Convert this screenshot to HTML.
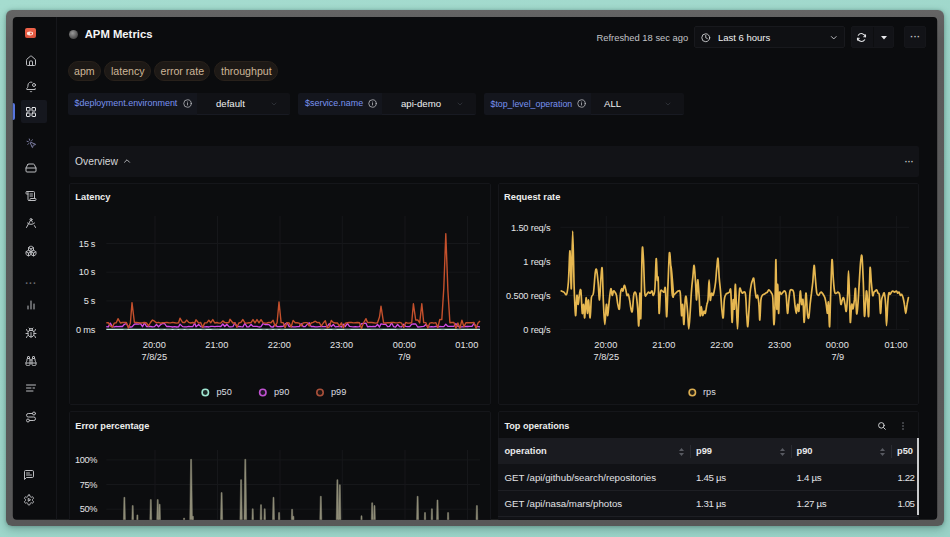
<!DOCTYPE html>
<html lang="en"><head><meta charset="utf-8"><title>APM Metrics</title>
<style>
html,body{margin:0;padding:0}
body{width:950px;height:537px;overflow:hidden;position:relative;font-family:"Liberation Sans", sans-serif;
 background:linear-gradient(160deg,#a5dccf 0%,#9fd7cb 50%,#99d2c7 100%)}
#frame{position:absolute;left:5.7px;top:10.3px;width:938.8px;height:516.2px;border-radius:6px;background:linear-gradient(#656565,#5b5b5b 6%,#585858);box-shadow:0 3px 9px rgba(20,55,48,.32),0 0 3px rgba(20,55,48,.25)}
#app{position:absolute;left:0;top:0;width:950px;height:537px;clip-path:inset(17px 12.8px 17.3px 12.8px round 4px);background:#0b0c0e}
.t{position:absolute;white-space:nowrap}
.r{position:absolute}
.ic{position:absolute;overflow:visible}
</style></head>
<body>
<div id="frame"></div>
<div id="app">
<div class="r" style="left:56.1px;top:17px;width:1.0px;height:503px;background:#16171b;"></div>
<div class="r" style="left:24.7px;top:28px;width:11px;height:10.3px;border-radius:2px;background:linear-gradient(#f0634a,#d9523c)"></div>
<svg class="ic" style="left:25.2px;top:28.6px" width="10" height="9" viewBox="0 0 10 9"><ellipse cx="5" cy="4.5" rx="3.1" ry="1.9" fill="#fde6df"/><circle cx="6" cy="4.5" r="1.1" fill="#e8573f"/></svg>
<svg class="ic" style="left:25.0px;top:55.0px" width="12" height="12" viewBox="0 0 24 24" fill="none" stroke="#bcbdc0" stroke-width="2" stroke-linecap="round" stroke-linejoin="round"><path d="M15 21v-8a1 1 0 0 0-1-1h-4a1 1 0 0 0-1 1v8"/><path d="M3 10a2 2 0 0 1 .709-1.528l7-5.999a2 2 0 0 1 2.582 0l7 5.999A2 2 0 0 1 21 10v9a2 2 0 0 1-2 2H5a2 2 0 0 1-2-2z"/></svg>
<svg class="ic" style="left:25.0px;top:80.5px" width="12" height="12" viewBox="0 0 24 24" fill="none" stroke="#bcbdc0" stroke-width="2" stroke-linecap="round" stroke-linejoin="round"><path d="M10.268 21a2 2 0 0 0 3.464 0"/><path d="M13.916 2.314A6 6 0 0 0 6 8c0 4.499-1.411 5.956-2.74 7.327A1 1 0 0 0 4 17h16a1 1 0 0 0 .74-1.673 9 9 0 0 1-.585-.665"/><circle cx="18" cy="8" r="3"/></svg>
<div class="r" style="left:20.5px;top:100px;width:26.5px;height:22.5px;background:#15171e;border-radius:2px"></div>
<div class="r" style="left:12px;top:102.5px;width:2.6999999999999993px;height:17.5px;background:#5674dc;border-radius:0 2px 2px 0"></div>
<svg class="ic" style="left:25.0px;top:105.5px" width="12" height="12" viewBox="0 0 24 24" fill="none" stroke="#e6e7ea" stroke-width="2" stroke-linecap="round" stroke-linejoin="round"><rect width="7" height="7" x="3" y="3" rx="1"/><rect width="7" height="7" x="14" y="3" rx="1"/><rect width="7" height="7" x="14" y="14" rx="1"/><rect width="7" height="7" x="3" y="14" rx="1"/></svg>
<svg class="ic" style="left:25.5px;top:137.5px" width="11" height="11" viewBox="0 0 24 24" fill="none" stroke="#8486ad" stroke-width="2" stroke-linecap="round" stroke-linejoin="round"><path d="M14 4.1 12 6"/><path d="m5.1 8-2.9-.8"/><path d="m6 12-1.9 2"/><path d="M7.2 2.2 8 5.1"/><path d="M9.037 9.69a.498.498 0 0 1 .653-.653l11 4.5a.5.5 0 0 1-.074.949l-4.349 1.041a1 1 0 0 0-.74.739l-1.04 4.35a.5.5 0 0 1-.95.074z"/></svg>
<svg class="ic" style="left:25.0px;top:162.0px" width="12" height="12" viewBox="0 0 24 24" fill="none" stroke="#bcbdc0" stroke-width="2" stroke-linecap="round" stroke-linejoin="round"><line x1="22" x2="2" y1="12" y2="12"/><path d="M5.45 5.11 2 12v6a2 2 0 0 0 2 2h16a2 2 0 0 0 2-2v-6l-3.45-6.89A2 2 0 0 0 16.76 4H7.24a2 2 0 0 0-1.79 1.11z"/></svg>
<svg class="ic" style="left:25.0px;top:190.0px" width="12" height="12" viewBox="0 0 24 24" fill="none" stroke="#bcbdc0" stroke-width="2" stroke-linecap="round" stroke-linejoin="round"><path d="M15 12h-5"/><path d="M15 8h-5"/><path d="M19 17V5a2 2 0 0 0-2-2H4"/><path d="M8 21h12a2 2 0 0 0 2-2v-1a1 1 0 0 0-1-1H11a1 1 0 0 0-1 1v1a2 2 0 1 1-4 0V5a2 2 0 1 0-4 0v2a1 1 0 0 0 1 1h3"/></svg>
<svg class="ic" style="left:25.0px;top:217.0px" width="12" height="12" viewBox="0 0 24 24" fill="none" stroke="#bcbdc0" stroke-width="2" stroke-linecap="round" stroke-linejoin="round"><path d="m12.99 6.74 1.93 3.44"/><path d="M19.136 12a10 10 0 0 1-14.271 0"/><path d="m21 21-2.16-3.84"/><path d="m3 21 8.02-14.26"/><circle cx="12" cy="5" r="2"/></svg>
<svg class="ic" style="left:25.0px;top:245.0px" width="12" height="12" viewBox="0 0 24 24" fill="none" stroke="#bcbdc0" stroke-width="2" stroke-linecap="round" stroke-linejoin="round"><path d="M2.97 12.92A2 2 0 0 0 2 14.63v3.24a2 2 0 0 0 .97 1.71l3 1.8a2 2 0 0 0 2.06 0L12 19v-5.5l-5-3-4.03 2.42Z"/><path d="m7 16.5-4.74-2.85"/><path d="m7 16.5 5-3"/><path d="M7 16.5v5.17"/><path d="M12 13.5V19l3.97 2.38a2 2 0 0 0 2.06 0l3-1.8a2 2 0 0 0 .97-1.71v-3.24a2 2 0 0 0-.97-1.71L17 10.5l-5 3Z"/><path d="m17 16.5-5-3"/><path d="m17 16.5 4.74-2.85"/><path d="M17 16.5v5.17"/><path d="M7.97 4.42A2 2 0 0 0 7 6.13v4.37l5 3 5-3V6.13a2 2 0 0 0-.97-1.71l-3-1.8a2 2 0 0 0-2.06 0l-3 1.8Z"/><path d="M12 8 7.26 5.15"/><path d="m12 8 4.74-2.85"/><path d="M12 13.5V8"/></svg>
<div class="t" style="left:-69.0px;width:200px;text-align:center;top:276.7px;font-size:10px;line-height:14px;color:#6a6c72;font-weight:bold;letter-spacing:0.5px;">···</div>
<svg class="ic" style="left:25.0px;top:299.0px" width="12" height="12" viewBox="0 0 24 24" fill="none" stroke="#bcbdc0" stroke-width="2" stroke-linecap="round" stroke-linejoin="round"><line x1="18" x2="18" y1="20" y2="10"/><line x1="12" x2="12" y1="20" y2="4"/><line x1="6" x2="6" y1="20" y2="14"/></svg>
<svg class="ic" style="left:25.0px;top:327.0px" width="12" height="12" viewBox="0 0 24 24" fill="none" stroke="#bcbdc0" stroke-width="2" stroke-linecap="round" stroke-linejoin="round"><path d="m8 2 1.88 1.88"/><path d="M14.12 3.88 16 2"/><path d="M9 7.13v-1a3.003 3.003 0 1 1 6 0v1"/><path d="M12 20c-3.3 0-6-2.7-6-6v-3a4 4 0 0 1 4-4h4a4 4 0 0 1 4 4v3c0 3.3-2.7 6-6 6"/><path d="M12 20v-9"/><path d="M6.53 9C4.6 8.8 3 7.1 3 5"/><path d="M6 13H2"/><path d="M3 21c0-2.1 1.7-3.9 3.8-4"/><path d="M20.97 5c0 2.1-1.6 3.8-3.5 4"/><path d="M22 13h-4"/><path d="M17.2 17c2.1.1 3.8 1.9 3.8 4"/></svg>
<svg class="ic" style="left:25.0px;top:355.0px" width="12" height="12" viewBox="0 0 24 24" fill="none" stroke="#bcbdc0" stroke-width="2" stroke-linecap="round" stroke-linejoin="round"><path d="M10 10h4"/><path d="M19 7V4a1 1 0 0 0-1-1h-2a1 1 0 0 0-1 1v3"/><path d="M20 21a2 2 0 0 0 2-2v-3.851c0-1.39-2-2.962-2-4.829V8a1 1 0 0 0-1-1h-4a1 1 0 0 0-1 1v11a2 2 0 0 0 2 2z"/><path d="M22 16H2"/><path d="M4 21a2 2 0 0 1-2-2v-3.851c0-1.39 2-2.962 2-4.829V8a1 1 0 0 1 1-1h4a1 1 0 0 1 1 1v11a2 2 0 0 1-2 2z"/><path d="M9 7V4a1 1 0 0 0-1-1H6a1 1 0 0 0-1 1v3"/></svg>
<svg class="ic" style="left:25.0px;top:382.0px" width="12" height="12" viewBox="0 0 24 24" fill="none" stroke="#bcbdc0" stroke-width="2" stroke-linecap="round" stroke-linejoin="round"><path d="M3 6h18"/><path d="M3 12h9"/><path d="M16 12h3"/><path d="M3 18h13"/></svg>
<svg class="ic" style="left:25.0px;top:411.0px" width="12" height="12" viewBox="0 0 24 24" fill="none" stroke="#bcbdc0" stroke-width="2" stroke-linecap="round" stroke-linejoin="round"><circle cx="6" cy="19" r="3"/><path d="M9 19h8.5a3.5 3.5 0 0 0 0-7h-11a3.5 3.5 0 0 1 0-7H15"/><circle cx="18" cy="5" r="3"/></svg>
<svg class="ic" style="left:23.0px;top:469.0px" width="12" height="12" viewBox="0 0 24 24" fill="none" stroke="#bcbdc0" stroke-width="2" stroke-linecap="round" stroke-linejoin="round"><path d="M21 15a2 2 0 0 1-2 2H7l-4 4V5a2 2 0 0 1 2-2h14a2 2 0 0 1 2 2z"/><path d="M13 8H7"/><path d="M17 12H7"/></svg>
<svg class="ic" style="left:23.0px;top:494.0px" width="12" height="12" viewBox="0 0 24 24" fill="none" stroke="#bcbdc0" stroke-width="2" stroke-linecap="round" stroke-linejoin="round"><path d="M12.22 2h-.44a2 2 0 0 0-2 2v.18a2 2 0 0 1-1 1.73l-.43.25a2 2 0 0 1-2 0l-.15-.08a2 2 0 0 0-2.73.73l-.22.38a2 2 0 0 0 .73 2.73l.15.1a2 2 0 0 1 1 1.72v.51a2 2 0 0 1-1 1.74l-.15.09a2 2 0 0 0-.73 2.73l.22.38a2 2 0 0 0 2.73.73l.15-.08a2 2 0 0 1 2 0l.43.25a2 2 0 0 1 1 1.73V20a2 2 0 0 0 2 2h.44a2 2 0 0 0 2-2v-.18a2 2 0 0 1 1-1.73l.43-.25a2 2 0 0 1 2 0l.15.08a2 2 0 0 0 2.73-.73l.22-.39a2 2 0 0 0-.73-2.73l-.15-.08a2 2 0 0 1-1-1.74v-.5a2 2 0 0 1 1-1.74l.15-.09a2 2 0 0 0 .73-2.73l-.22-.38a2 2 0 0 0-2.73-.73l-.15.08a2 2 0 0 1-2 0l-.43-.25a2 2 0 0 1-1-1.73V4a2 2 0 0 0-2-2z"/><path d="M10.5 9.5v5l4-2.5z" fill="currentColor"/></svg>
<div class="r" style="left:69px;top:29.5px;width:9px;height:9px;border-radius:50%;background:radial-gradient(circle at 40% 35%,#9a9a9a,#4a4a4a 70%,#333)"></div>
<div class="t" style="left:84.7px;top:25.9px;font-size:11.3px;line-height:16px;color:#f4f5f6;font-weight:bold;">APM Metrics</div>
<div class="t" style="left:596.5px;top:31.2px;font-size:9.4px;line-height:13px;color:#c3c4c7;font-weight:normal;">Refreshed 18 sec ago</div>
<div class="r" style="left:694px;top:26px;width:151px;height:22px;background:#0f1013;border:1px solid #18191d;box-sizing:border-box;border-radius:2px"></div>
<svg class="ic" style="left:700.5px;top:32.5px" width="9.5" height="9.5" viewBox="0 0 24 24" fill="none" stroke="#d4d5d8" stroke-width="2.2" stroke-linecap="round" stroke-linejoin="round"><circle cx="12" cy="12" r="10"/><polyline points="12 6 12 12 16 14"/></svg>
<div class="t" style="left:718.0px;top:31.2px;font-size:9.5px;line-height:13px;color:#f0f1f2;font-weight:normal;">Last 6 hours</div>
<svg class="ic" style="left:829.2px;top:32.5px" width="9.5" height="9.5" viewBox="0 0 24 24" fill="none" stroke="#c4c5c9" stroke-width="2.4" stroke-linecap="round" stroke-linejoin="round"><path d="m6 9 6 6 6-6"/></svg>
<div class="r" style="left:851px;top:26px;width:43px;height:22px;background:#121317;border:1px solid #15161a;box-sizing:border-box;border-radius:2px"></div>
<div class="r" style="left:873px;top:27px;width:1px;height:20px;background:#0d0e10;"></div>
<svg class="ic" style="left:856.2px;top:31.7px" width="11" height="11" viewBox="0 0 24 24" fill="none" stroke="#e4e5e8" stroke-width="2.3" stroke-linecap="round" stroke-linejoin="round"><path d="M20.5 10.5A8.6 8.6 0 0 0 5 7.2"/><path d="M3.5 13.500A8.6 8.600 0 0 0 19 16.800"/><path d="M20.8 6.300v4h-4"/><path d="M3.200 17.700v-4h4"/></svg>
<svg class="ic" style="left:881px;top:35.5px" width="6" height="3.5" viewBox="0 0 6 3.5"><path d="M0 0h6L3 3.5z" fill="#e6e7ea"/></svg>
<div class="r" style="left:904px;top:26px;width:22px;height:22px;background:#121317;border:1px solid #15161a;box-sizing:border-box;border-radius:2px"></div>
<div class="t" style="left:815.3px;width:200px;text-align:center;top:31.4px;font-size:9px;line-height:13px;color:#c8c9cc;font-weight:bold;letter-spacing:0.3px;">···</div>
<div class="r" style="left:67.5px;top:61px;width:33.0px;height:19.5px;background:#1d1916;border-radius:10px;border:1px solid #28211b;box-sizing:border-box"></div>
<div class="t" style="left:-15.7px;width:200px;text-align:center;top:64.0px;font-size:10.6px;line-height:15px;color:#cdb698;font-weight:normal;">apm</div>
<div class="r" style="left:104px;top:61px;width:47px;height:19.5px;background:#1d1916;border-radius:10px;border:1px solid #28211b;box-sizing:border-box"></div>
<div class="t" style="left:27.8px;width:200px;text-align:center;top:64.0px;font-size:10.6px;line-height:15px;color:#cdb698;font-weight:normal;">latency</div>
<div class="r" style="left:154px;top:61px;width:56px;height:19.5px;background:#1d1916;border-radius:10px;border:1px solid #28211b;box-sizing:border-box"></div>
<div class="t" style="left:82.3px;width:200px;text-align:center;top:64.0px;font-size:10.6px;line-height:15px;color:#cdb698;font-weight:normal;">error rate</div>
<div class="r" style="left:214px;top:61px;width:64px;height:19.5px;background:#1d1916;border-radius:10px;border:1px solid #28211b;box-sizing:border-box"></div>
<div class="t" style="left:146.3px;width:200px;text-align:center;top:64.0px;font-size:10.6px;line-height:15px;color:#cdb698;font-weight:normal;">throughput</div>
<div class="r" style="left:68px;top:92.5px;width:129px;height:22.0px;background:#14161d;border-radius:2px 0 0 2px"></div>
<div class="r" style="left:197px;top:92.5px;width:93px;height:22.0px;background:#111216;border-bottom:1px solid #181a22;box-sizing:border-box;border-radius:0 2px 2px 0"></div>
<div class="t" style="left:74.5px;top:97.1px;font-size:8.95px;line-height:13px;color:#7892f0;font-weight:normal;">$deployment.environment</div>
<svg class="ic" style="left:183.0px;top:99.0px" width="9" height="9" viewBox="0 0 24 24" fill="none" stroke="#c0c1c5" stroke-width="2" stroke-linecap="round" stroke-linejoin="round"><circle cx="12" cy="12" r="10"/><path d="M12 16v-5"/><path d="M12 8h.01"/></svg>
<div class="t" style="left:216.0px;top:96.9px;font-size:9.6px;line-height:13px;color:#f0f1f2;font-weight:normal;">default</div>
<svg class="ic" style="left:270.0px;top:99.5px" width="8" height="8" viewBox="0 0 24 24" fill="none" stroke="#3a3c44" stroke-width="2" stroke-linecap="round" stroke-linejoin="round"><path d="m6 9 6 6 6-6"/></svg>
<div class="r" style="left:298px;top:92.5px;width:84px;height:22.0px;background:#14161d;border-radius:2px 0 0 2px"></div>
<div class="r" style="left:382px;top:92.5px;width:94px;height:22.0px;background:#111216;border-bottom:1px solid #181a22;box-sizing:border-box;border-radius:0 2px 2px 0"></div>
<div class="t" style="left:305.0px;top:97.1px;font-size:8.95px;line-height:13px;color:#7892f0;font-weight:normal;">$service.name</div>
<svg class="ic" style="left:368.0px;top:99.0px" width="9" height="9" viewBox="0 0 24 24" fill="none" stroke="#c0c1c5" stroke-width="2" stroke-linecap="round" stroke-linejoin="round"><circle cx="12" cy="12" r="10"/><path d="M12 16v-5"/><path d="M12 8h.01"/></svg>
<div class="t" style="left:401.0px;top:96.9px;font-size:9.6px;line-height:13px;color:#f0f1f2;font-weight:normal;">api-demo</div>
<svg class="ic" style="left:455.5px;top:99.5px" width="8" height="8" viewBox="0 0 24 24" fill="none" stroke="#3a3c44" stroke-width="2" stroke-linecap="round" stroke-linejoin="round"><path d="m6 9 6 6 6-6"/></svg>
<div class="r" style="left:484px;top:92.5px;width:107px;height:22.0px;background:#14161d;border-radius:2px 0 0 2px"></div>
<div class="r" style="left:591px;top:92.5px;width:93px;height:22.0px;background:#111216;border-bottom:1px solid #181a22;box-sizing:border-box;border-radius:0 2px 2px 0"></div>
<div class="t" style="left:490.5px;top:97.6px;font-size:8.8px;line-height:12px;color:#7892f0;font-weight:normal;">$top_level_operation</div>
<svg class="ic" style="left:576.5px;top:99.0px" width="9" height="9" viewBox="0 0 24 24" fill="none" stroke="#c0c1c5" stroke-width="2" stroke-linecap="round" stroke-linejoin="round"><circle cx="12" cy="12" r="10"/><path d="M12 16v-5"/><path d="M12 8h.01"/></svg>
<div class="t" style="left:604.0px;top:96.9px;font-size:9.6px;line-height:13px;color:#f0f1f2;font-weight:normal;">ALL</div>
<svg class="ic" style="left:663.5px;top:99.5px" width="8" height="8" viewBox="0 0 24 24" fill="none" stroke="#3a3c44" stroke-width="2" stroke-linecap="round" stroke-linejoin="round"><path d="m6 9 6 6 6-6"/></svg>
<div class="r" style="left:69px;top:146px;width:850px;height:30.5px;background:#121317;border-radius:2px"></div>
<div class="t" style="left:75.0px;top:154.7px;font-size:10.3px;line-height:14px;color:#d5d6d9;font-weight:normal;">Overview</div>
<svg class="ic" style="left:122.0px;top:156.0px" width="10" height="10" viewBox="0 0 24 24" fill="none" stroke="#b8b9bd" stroke-width="2.3" stroke-linecap="round" stroke-linejoin="round"><path d="m18 15-6-6-6 6"/></svg>
<div class="t" style="left:809.2px;width:200px;text-align:center;top:156.3px;font-size:8.5px;line-height:12px;color:#c8c9cc;font-weight:bold;letter-spacing:0.2px;">···</div>
<div class="r" style="left:69px;top:182.5px;width:422px;height:222.5px;background:#0c0d0f;border:1px solid #15161a;box-sizing:border-box;border-radius:2px"></div>
<div class="r" style="left:498px;top:182.5px;width:421px;height:222.5px;background:#0c0d0f;border:1px solid #15161a;box-sizing:border-box;border-radius:2px"></div>
<div class="r" style="left:69px;top:411px;width:422px;height:149px;background:#0c0d0f;border:1px solid #15161a;box-sizing:border-box;border-radius:2px"></div>
<div class="r" style="left:498px;top:411px;width:421px;height:149px;background:#0c0d0f;border:1px solid #15161a;box-sizing:border-box;border-radius:2px"></div>
<div class="t" style="left:75.3px;top:191.0px;font-size:9.3px;line-height:13px;color:#eceded;font-weight:bold;">Latency</div>
<div class="t" style="left:504.0px;top:191.0px;font-size:9.3px;line-height:13px;color:#eceded;font-weight:bold;">Request rate</div>
<div class="t" style="left:75.3px;top:420.2px;font-size:9.2px;line-height:13px;color:#eceded;font-weight:bold;">Error percentage</div>
<div class="t" style="left:504.4px;top:420.2px;font-size:9.1px;line-height:13px;color:#eceded;font-weight:bold;">Top operations</div>
<div class="t" style="right:854.6px;top:237.7px;font-size:9.2px;line-height:13px;color:#e4e5e7;font-weight:normal;word-spacing:-0.6px;">15 s</div>
<div class="t" style="right:854.6px;top:266.4px;font-size:9.2px;line-height:13px;color:#e4e5e7;font-weight:normal;word-spacing:-0.6px;">10 s</div>
<div class="t" style="right:854.6px;top:295.1px;font-size:9.2px;line-height:13px;color:#e4e5e7;font-weight:normal;word-spacing:-0.6px;">5 s</div>
<div class="t" style="right:854.6px;top:323.8px;font-size:9.2px;line-height:13px;color:#e4e5e7;font-weight:normal;word-spacing:-0.6px;">0 ms</div>
<div class="t" style="left:54.3px;width:200px;text-align:center;top:338.9px;font-size:9.2px;line-height:13px;color:#e4e5e7;font-weight:normal;">20:00</div>
<div class="t" style="left:116.8px;width:200px;text-align:center;top:338.9px;font-size:9.2px;line-height:13px;color:#e4e5e7;font-weight:normal;">21:00</div>
<div class="t" style="left:179.3px;width:200px;text-align:center;top:338.9px;font-size:9.2px;line-height:13px;color:#e4e5e7;font-weight:normal;">22:00</div>
<div class="t" style="left:241.6px;width:200px;text-align:center;top:338.9px;font-size:9.2px;line-height:13px;color:#e4e5e7;font-weight:normal;">23:00</div>
<div class="t" style="left:304.3px;width:200px;text-align:center;top:338.9px;font-size:9.2px;line-height:13px;color:#e4e5e7;font-weight:normal;">00:00</div>
<div class="t" style="left:366.8px;width:200px;text-align:center;top:338.9px;font-size:9.2px;line-height:13px;color:#e4e5e7;font-weight:normal;">01:00</div>
<div class="t" style="left:54.3px;width:200px;text-align:center;top:351.2px;font-size:9.2px;line-height:13px;color:#e4e5e7;font-weight:normal;">7/8/25</div>
<div class="t" style="left:304.3px;width:200px;text-align:center;top:351.2px;font-size:9.2px;line-height:13px;color:#e4e5e7;font-weight:normal;">7/9</div>
<div class="t" style="left:216.5px;top:386.4px;font-size:9.2px;line-height:13px;color:#dcdde0;font-weight:normal;">p50</div>
<div class="t" style="left:274.0px;top:386.4px;font-size:9.2px;line-height:13px;color:#dcdde0;font-weight:normal;">p90</div>
<div class="t" style="left:331.0px;top:386.4px;font-size:9.2px;line-height:13px;color:#dcdde0;font-weight:normal;">p99</div>
<div class="t" style="right:399.6px;top:221.5px;font-size:9.2px;line-height:13px;color:#e4e5e7;font-weight:normal;letter-spacing:-0.15px;">1.50 req/s</div>
<div class="t" style="right:399.6px;top:255.6px;font-size:9.2px;line-height:13px;color:#e4e5e7;font-weight:normal;letter-spacing:-0.15px;">1 req/s</div>
<div class="t" style="right:399.6px;top:289.7px;font-size:9.2px;line-height:13px;color:#e4e5e7;font-weight:normal;letter-spacing:-0.15px;">0.500 req/s</div>
<div class="t" style="right:399.6px;top:323.8px;font-size:9.2px;line-height:13px;color:#e4e5e7;font-weight:normal;letter-spacing:-0.15px;">0 req/s</div>
<div class="t" style="left:505.8px;width:200px;text-align:center;top:338.9px;font-size:9.2px;line-height:13px;color:#e4e5e7;font-weight:normal;">20:00</div>
<div class="t" style="left:563.8px;width:200px;text-align:center;top:338.9px;font-size:9.2px;line-height:13px;color:#e4e5e7;font-weight:normal;">21:00</div>
<div class="t" style="left:621.7px;width:200px;text-align:center;top:338.9px;font-size:9.2px;line-height:13px;color:#e4e5e7;font-weight:normal;">22:00</div>
<div class="t" style="left:679.6px;width:200px;text-align:center;top:338.9px;font-size:9.2px;line-height:13px;color:#e4e5e7;font-weight:normal;">23:00</div>
<div class="t" style="left:737.3px;width:200px;text-align:center;top:338.9px;font-size:9.2px;line-height:13px;color:#e4e5e7;font-weight:normal;">00:00</div>
<div class="t" style="left:796.1px;width:200px;text-align:center;top:338.9px;font-size:9.2px;line-height:13px;color:#e4e5e7;font-weight:normal;">01:00</div>
<div class="t" style="left:506.3px;width:200px;text-align:center;top:351.2px;font-size:9.2px;line-height:13px;color:#e4e5e7;font-weight:normal;">7/8/25</div>
<div class="t" style="left:737.8px;width:200px;text-align:center;top:351.2px;font-size:9.2px;line-height:13px;color:#e4e5e7;font-weight:normal;">7/9</div>
<div class="t" style="left:703.0px;top:386.4px;font-size:9.2px;line-height:13px;color:#dcdde0;font-weight:normal;">rps</div>
<div class="t" style="right:852.8px;top:454.1px;font-size:9.2px;line-height:13px;color:#e4e5e7;font-weight:normal;letter-spacing:-0.3px;">100%</div>
<div class="t" style="right:852.8px;top:478.7px;font-size:9.2px;line-height:13px;color:#e4e5e7;font-weight:normal;letter-spacing:-0.3px;">75%</div>
<div class="t" style="right:852.8px;top:503.4px;font-size:9.2px;line-height:13px;color:#e4e5e7;font-weight:normal;letter-spacing:-0.3px;">50%</div>
<svg class="ic" style="left:0;top:0" width="950" height="537" viewBox="0 0 950 537"><path d="M106.3 329.6H480.0" stroke="#16171a" stroke-width="1"/><path d="M106.3 300.9H480.0" stroke="#16171a" stroke-width="1"/><path d="M106.3 272.2H480.0" stroke="#16171a" stroke-width="1"/><path d="M106.3 243.5H480.0" stroke="#16171a" stroke-width="1"/><path d="M155 216V330" stroke="#16171a" stroke-width="1"/><path d="M217.5 216V330" stroke="#16171a" stroke-width="1"/><path d="M280 216V330" stroke="#16171a" stroke-width="1"/><path d="M342.3 216V330" stroke="#16171a" stroke-width="1"/><path d="M405 216V330" stroke="#16171a" stroke-width="1"/><path d="M467.5 216V330" stroke="#16171a" stroke-width="1"/><path d="M106.3 329.4L108.3 329.4L110.3 329.4L112.3 329.3L114.3 329.4L116.3 329.4L118.0 329.4L120.4 329.3L122.4 329.4L124.4 329.3L126.4 329.3L128.4 329.4L130.4 329.4L132.0 329.4L134.4 329.4L136.4 329.4L138.4 329.4L140.5 329.4L142.5 329.4L144.5 329.3L146.5 329.4L148.5 329.3L150.5 329.4L152.5 329.4L154.5 329.3L156.5 329.4L158.5 329.4L160.5 329.3L162.6 329.3L164.6 329.4L166.6 329.3L168.6 329.3L170.6 329.3L172.6 329.4L174.6 329.3L176.6 329.3L178.6 329.4L180.0 329.3L182.6 329.3L184.7 329.4L186.7 329.3L188.7 329.3L190.7 329.4L192.7 329.4L194.7 329.4L196.0 329.4L198.7 329.4L200.7 329.4L202.7 329.3L204.7 329.3L206.8 329.4L208.8 329.3L210.8 329.4L212.8 329.3L214.8 329.3L216.8 329.3L218.8 329.3L220.8 329.4L222.8 329.4L224.8 329.4L226.8 329.4L228.9 329.3L230.0 329.4L232.9 329.3L234.9 329.4L236.9 329.3L238.9 329.4L240.9 329.4L242.9 329.4L244.9 329.4L246.9 329.4L248.9 329.4L251.0 329.4L253.0 329.4L255.0 329.3L257.0 329.4L259.0 329.4L261.0 329.4L263.0 329.3L265.0 329.3L267.0 329.4L269.0 329.3L271.0 329.3L273.1 329.4L275.1 329.3L277.1 329.3L279.0 329.4L281.1 329.3L283.1 329.3L285.1 329.4L287.1 329.4L289.1 329.4L291.1 329.4L293.1 329.3L295.2 329.4L297.2 329.3L299.2 329.4L301.2 329.4L303.2 329.4L305.2 329.4L307.2 329.4L309.2 329.3L311.2 329.4L313.2 329.3L315.3 329.4L317.3 329.4L319.3 329.4L321.3 329.3L323.3 329.3L325.3 329.4L327.3 329.3L329.3 329.4L331.3 329.4L333.3 329.3L335.3 329.3L337.4 329.4L339.4 329.3L341.4 329.4L343.4 329.4L345.4 329.3L347.4 329.3L349.4 329.3L351.4 329.4L353.4 329.4L355.4 329.4L357.4 329.4L359.5 329.4L361.5 329.4L363.5 329.3L366.0 329.4L367.5 329.4L369.5 329.4L371.5 329.3L373.5 329.3L375.5 329.3L377.5 329.3L379.5 329.3L381.0 329.3L383.6 329.4L385.6 329.4L387.6 329.4L389.6 329.3L391.6 329.4L393.6 329.4L395.6 329.4L397.6 329.3L399.6 329.3L401.6 329.4L403.7 329.3L405.7 329.4L407.7 329.3L409.7 329.4L411.7 329.4L413.4 329.4L415.7 329.3L417.7 329.4L419.7 329.4L421.8 329.4L423.7 329.4L425.8 329.3L427.8 329.4L429.8 329.4L431.8 329.4L433.8 329.4L435.8 329.3L437.8 329.4L439.8 329.4L441.8 329.3L443.8 329.3L445.8 329.4L447.9 329.4L449.9 329.4L451.9 329.4L453.9 329.4L455.9 329.4L457.9 329.3L459.9 329.3L461.9 329.4L463.9 329.4L465.9 329.4L467.9 329.4L470.0 329.3L472.0 329.4L474.0 329.3L476.0 329.4L478.0 329.4L480.0 329.4" fill="none" stroke="#bfeee1" stroke-width="1.1" stroke-linejoin="round"/><path d="M106.3 326.6L108.3 326.9L110.3 323.1L112.3 326.6L114.3 326.9L116.3 326.4L118.0 326.7L120.4 326.5L122.4 326.5L124.4 324.3L126.4 323.5L128.4 326.8L130.4 327.0L132.0 326.9L134.4 324.2L136.4 323.9L138.4 324.2L140.5 323.6L142.5 326.7L144.5 322.9L146.5 326.5L148.5 326.6L150.5 326.5L152.5 326.9L154.5 326.6L156.5 324.4L158.5 326.8L160.5 324.7L162.6 323.4L164.6 323.6L166.6 326.5L168.6 326.4L170.6 326.6L172.6 327.0L174.6 326.7L176.6 327.0L178.6 326.9L180.0 324.1L182.6 326.6L184.7 326.9L186.7 326.8L188.7 326.4L190.7 326.7L192.7 326.7L194.7 323.0L196.0 326.8L198.7 324.4L200.7 326.6L202.7 326.9L204.7 326.9L206.8 326.6L208.8 327.0L210.8 326.4L212.8 326.4L214.8 326.6L216.8 326.3L218.8 326.4L220.8 326.5L222.8 324.0L224.8 326.5L226.8 324.3L228.9 326.6L230.0 326.8L232.9 326.7L234.9 322.8L236.9 326.6L238.9 326.4L240.9 326.7L242.9 326.9L244.9 323.3L246.9 326.9L248.9 326.9L251.0 324.3L253.0 326.4L255.0 326.4L257.0 326.3L259.0 327.0L261.0 326.7L263.0 323.7L265.0 324.5L267.0 324.4L269.0 324.6L271.0 326.8L273.1 327.0L275.1 324.4L277.1 326.5L279.0 326.7L281.1 326.5L283.1 326.4L285.1 324.0L287.1 322.8L289.1 326.6L291.1 326.5L293.1 326.8L295.2 326.8L297.2 326.6L299.2 326.6L301.2 323.7L303.2 326.7L305.2 326.6L307.2 324.4L309.2 322.7L311.2 326.7L313.2 326.5L315.3 326.9L317.3 326.9L319.3 326.6L321.3 326.4L323.3 326.6L325.3 326.6L327.3 326.4L329.3 323.6L331.3 326.6L333.3 324.5L335.3 326.9L337.4 326.6L339.4 326.4L341.4 327.0L343.4 324.3L345.4 326.5L347.4 323.3L349.4 326.4L351.4 326.7L353.4 326.8L355.4 326.6L357.4 326.9L359.5 326.7L361.5 323.6L363.5 323.4L366.0 323.2L367.5 326.8L369.5 326.5L371.5 326.6L373.5 326.4L375.5 326.7L377.5 324.3L379.5 327.0L381.0 323.8L383.6 324.3L385.6 324.2L387.6 326.6L389.6 326.4L391.6 322.8L393.6 326.7L395.6 327.0L397.6 324.4L399.6 326.7L401.6 326.9L403.7 324.2L405.7 326.4L407.7 326.7L409.7 326.6L411.7 324.1L413.4 323.9L415.7 324.0L417.7 327.0L419.7 326.8L421.8 326.6L423.7 326.4L425.8 324.5L427.8 326.7L429.8 326.9L431.8 326.7L433.8 326.8L435.8 326.3L437.8 326.8L439.8 326.5L441.8 326.6L443.8 326.7L445.8 324.2L447.9 326.4L449.9 326.4L451.9 326.4L453.9 326.4L455.9 323.6L457.9 326.4L459.9 326.8L461.9 326.9L463.9 326.6L465.9 326.4L467.9 326.5L470.0 326.4L472.0 326.4L474.0 323.3L476.0 326.5L478.0 326.7L480.0 326.9" fill="none" stroke="#d44be6" stroke-width="1.3" stroke-linejoin="round"/><path d="M106.3 322.8L108.3 322.7L110.3 325.9L112.3 327.2L114.3 323.1L116.3 322.7L118.0 318.7L120.4 323.0L122.4 322.5L124.4 322.4L126.4 322.5L128.4 328.0L130.4 323.0L132.0 302.6L134.4 322.4L136.4 322.5L138.4 322.6L140.5 323.0L142.5 322.8L144.5 322.5L146.5 323.0L148.5 326.0L150.5 322.5L152.5 320.0L154.5 321.2L156.5 322.9L158.5 322.4L160.5 323.2L162.6 322.8L164.6 322.6L166.6 322.4L168.6 322.8L170.6 322.9L172.6 322.4L174.6 322.7L176.6 323.1L178.6 322.8L180.0 318.1L182.6 322.5L184.7 322.5L186.7 320.1L188.7 322.4L190.7 323.0L192.7 322.5L194.7 323.1L196.0 319.8L198.7 323.1L200.7 322.5L202.7 327.4L204.7 322.9L206.8 322.9L208.8 320.2L210.8 322.7L212.8 319.6L214.8 323.0L216.8 322.5L218.8 323.1L220.8 323.1L222.8 320.9L224.8 322.6L226.8 322.7L228.9 322.5L230.0 319.3L232.9 323.0L234.9 322.8L236.9 327.2L238.9 323.0L240.9 322.4L242.9 319.5L244.9 322.9L246.9 323.1L248.9 322.8L251.0 322.7L253.0 319.6L255.0 322.9L257.0 319.6L259.0 322.8L261.0 319.7L263.0 322.6L265.0 323.1L267.0 323.0L269.0 322.4L271.0 322.8L273.1 320.2L275.1 326.2L277.1 322.7L279.0 302.0L281.1 322.5L283.1 322.6L285.1 327.7L287.1 322.6L289.1 322.9L291.1 327.0L293.1 320.4L295.2 322.7L297.2 322.7L299.2 323.1L301.2 326.0L303.2 322.9L305.2 322.6L307.2 322.6L309.2 326.1L311.2 323.0L313.2 322.4L315.3 321.2L317.3 322.6L319.3 322.5L321.3 326.2L323.3 323.0L325.3 320.7L327.3 328.0L329.3 326.8L331.3 320.5L333.3 322.5L335.3 323.0L337.4 322.9L339.4 326.2L341.4 322.8L343.4 327.9L345.4 323.1L347.4 322.7L349.4 322.5L351.4 322.5L353.4 322.9L355.4 322.7L357.4 322.5L359.5 322.7L361.5 328.5L363.5 323.1L366.0 318.7L367.5 322.6L369.5 322.4L371.5 322.5L373.5 322.8L375.5 323.1L377.5 322.8L379.5 317.0L381.0 306.1L383.6 323.0L385.6 323.0L387.6 322.8L389.6 322.7L391.6 322.5L393.6 322.4L395.6 322.9L397.6 322.9L399.6 322.4L401.6 323.2L403.7 327.4L405.7 322.5L407.7 323.1L409.7 323.0L411.7 322.8L413.4 303.8L415.7 320.0L417.7 319.9L419.7 322.9L421.8 303.8L423.7 322.6L425.8 322.6L427.8 328.1L429.8 323.1L431.8 322.6L433.8 323.2L435.8 322.6L437.8 327.7L439.8 319.5L441.8 319.6L443.8 288.2L445.8 233.7L447.9 290.5L449.9 322.7L451.9 322.5L453.9 322.5L455.9 328.2L457.9 322.9L459.9 328.2L461.9 320.1L463.9 326.8L465.9 322.8L467.9 322.6L470.0 322.8L472.0 322.7L474.0 322.4L476.0 328.4L478.0 323.1L480.0 321.1" fill="none" stroke="#c4502c" stroke-width="1.4" stroke-linejoin="round"/><circle cx="205.3" cy="392.5" r="3.2" fill="#9fe6d1" fill-opacity="0.12" stroke="#9fe6d1" stroke-width="1.6"/><circle cx="262.8" cy="392.5" r="3.2" fill="#c052d2" fill-opacity="0.12" stroke="#c052d2" stroke-width="1.6"/><circle cx="320" cy="392.5" r="3.2" fill="#a9503a" fill-opacity="0.12" stroke="#a9503a" stroke-width="1.6"/><path d="M560.4 329.6H909.0" stroke="#16171a" stroke-width="1"/><path d="M560.4 295.5H909.0" stroke="#16171a" stroke-width="1"/><path d="M560.4 261.4H909.0" stroke="#16171a" stroke-width="1"/><path d="M560.4 227.3H909.0" stroke="#16171a" stroke-width="1"/><path d="M606.3 216V330" stroke="#16171a" stroke-width="1"/><path d="M664.3 216V330" stroke="#16171a" stroke-width="1"/><path d="M722.2 216V330" stroke="#16171a" stroke-width="1"/><path d="M780.1 216V330" stroke="#16171a" stroke-width="1"/><path d="M837.8 216V330" stroke="#16171a" stroke-width="1"/><path d="M896.6 216V330" stroke="#16171a" stroke-width="1"/><path d="M561.3 291.0C561.7 291.2 563.0 291.5 563.9 292.1C564.8 292.7 565.9 296.0 566.6 294.3C567.4 292.7 567.8 289.3 568.4 282.0C569.0 274.8 569.5 249.6 570.0 250.8C570.5 251.9 570.9 292.0 571.3 288.7C571.8 285.5 572.2 231.1 572.7 231.1C573.1 231.1 573.7 274.7 574.2 288.7C574.7 302.8 575.1 314.4 575.6 315.6C576.0 316.7 576.5 297.3 576.9 295.4C577.3 293.6 577.8 304.8 578.2 304.4C578.7 304.0 579.1 295.4 579.6 293.2C580.0 291.0 580.5 287.6 580.9 291.0C581.4 294.3 581.8 311.1 582.3 313.3C582.7 315.6 583.2 303.6 583.6 304.4C584.0 305.1 584.3 318.9 584.7 317.8C585.1 316.7 585.6 298.4 586.1 297.7C586.5 296.9 587.0 313.0 587.4 313.3C587.8 313.7 588.1 299.2 588.5 299.9C589.0 300.7 589.6 318.2 590.1 317.8C590.6 317.4 590.9 301.8 591.4 297.7C592.0 293.6 592.8 297.3 593.4 293.2C594.1 289.1 594.7 277.0 595.2 273.1C595.7 269.2 596.1 268.3 596.6 269.7C597.0 271.2 597.6 277.0 598.1 282.0C598.6 287.1 599.0 300.3 599.5 299.9C599.9 299.5 600.4 285.0 600.8 279.8C601.3 274.6 601.7 264.5 602.2 268.6C602.6 272.7 603.0 295.1 603.5 304.4C603.9 313.7 604.3 324.5 604.8 324.5C605.3 324.5 605.9 305.9 606.4 304.4C606.9 302.9 607.3 316.3 607.7 315.6C608.2 314.8 608.8 304.4 609.3 299.9C609.8 295.4 610.4 289.5 610.9 288.7C611.4 288.0 611.8 295.1 612.2 295.4C612.7 295.8 613.1 291.5 613.5 291.0C614.0 290.4 614.4 291.4 614.9 292.1C615.4 292.8 616.0 293.4 616.5 295.4C616.9 297.5 617.3 302.2 617.8 304.4C618.3 306.6 618.9 310.7 619.4 308.9C619.8 307.0 620.1 296.6 620.5 293.2C620.9 289.9 621.4 289.1 621.8 288.7C622.2 288.4 622.5 291.5 622.9 291.0C623.3 290.4 623.8 285.8 624.3 285.4C624.7 285.0 625.2 287.1 625.6 288.7C626.1 290.4 626.5 294.5 627.0 295.4C627.4 296.4 627.8 293.6 628.3 294.3C628.7 295.1 629.2 297.5 629.6 299.9C630.1 302.3 630.5 307.0 631.0 308.9C631.4 310.7 631.9 313.3 632.3 311.1C632.8 308.9 633.2 298.6 633.7 295.4C634.1 292.3 634.6 292.1 635.0 292.1C635.4 292.1 635.9 292.7 636.3 295.4C636.8 298.2 637.3 303.8 637.7 308.9C638.1 313.9 638.4 328.2 638.8 325.6C639.2 323.0 639.6 294.5 639.9 293.2C640.3 291.9 640.4 324.9 640.8 317.8C641.2 310.7 641.7 260.4 642.2 250.8C642.6 241.1 643.0 252.6 643.5 259.7C643.9 266.8 644.3 287.4 644.8 293.2C645.4 299.0 646.0 294.5 646.6 294.3C647.2 294.1 647.8 292.3 648.4 292.1C649.0 291.9 649.6 293.4 650.2 293.2C650.8 293.0 651.5 290.6 652.0 291.0C652.5 291.4 652.8 295.8 653.3 295.4C653.8 295.1 654.4 294.9 654.9 288.7C655.4 282.6 655.8 260.1 656.2 258.6C656.6 257.1 657.0 276.5 657.3 279.8C657.7 283.2 657.9 273.1 658.2 278.7C658.5 284.3 658.8 311.1 659.1 313.3C659.5 315.6 660.0 295.8 660.5 292.1C661.0 288.4 661.7 291.0 662.3 291.0C662.9 291.0 663.5 292.5 664.1 292.1C664.6 291.7 664.9 284.6 665.4 288.7C665.8 292.8 666.3 317.8 666.7 316.7C667.2 315.6 667.6 292.7 668.1 282.0C668.5 271.4 669.0 255.6 669.4 253.0C669.9 250.4 670.3 259.7 670.8 266.4C671.2 273.1 671.6 288.6 672.1 293.2C672.5 297.9 673.6 298.8 673.4 294.3C673.3 289.9 671.3 266.6 671.1 266.4C670.9 266.2 671.7 288.6 672.2 293.2C672.8 297.9 673.7 294.5 674.5 294.3C675.2 294.1 676.0 292.7 676.7 292.1C677.4 291.5 678.3 290.8 678.9 291.0C679.5 291.2 679.8 289.1 680.3 293.2C680.7 297.3 681.2 313.7 681.6 315.6C682.0 317.4 682.4 302.9 682.7 304.4C683.1 305.9 683.4 325.2 683.9 324.5C684.3 323.8 684.8 304.4 685.2 299.9C685.6 295.4 685.9 295.4 686.3 297.7C686.7 299.9 687.2 308.1 687.7 313.3C688.1 318.5 688.4 329.0 688.8 329.0C689.2 329.0 689.7 319.7 690.1 313.3C690.6 307.0 691.0 296.9 691.5 291.0C691.9 285.0 692.3 281.9 692.8 277.6C693.2 273.3 693.7 264.5 694.1 265.3C694.6 266.0 695.1 276.3 695.5 282.0C695.9 287.8 696.2 300.3 696.6 299.9C697.0 299.5 697.3 280.5 697.7 279.8C698.1 279.1 698.6 289.5 699.1 295.4C699.5 301.4 699.8 313.7 700.2 315.6C700.5 317.4 700.9 306.6 701.3 306.6C701.7 306.6 702.2 314.8 702.6 315.6C703.1 316.3 703.5 311.5 704.0 311.1C704.4 310.7 704.8 314.4 705.3 313.3C705.8 312.2 706.4 306.6 706.9 304.4C707.3 302.2 707.6 304.0 708.0 299.9C708.4 295.8 708.7 279.8 709.1 279.8C709.5 279.8 709.8 297.7 710.2 299.9C710.6 302.2 711.1 294.0 711.6 293.2C712.0 292.5 712.5 295.8 712.9 295.4C713.4 295.1 713.8 293.2 714.2 291.0C714.7 288.7 715.1 286.1 715.6 282.0C716.0 277.9 716.5 270.3 716.9 266.4C717.3 262.5 717.7 256.7 718.0 258.6C718.4 260.4 718.8 272.2 719.2 277.6C719.6 283.0 720.1 285.8 720.5 291.0C720.9 296.2 721.4 304.4 721.8 308.9C722.3 313.3 722.8 319.3 723.2 317.8C723.6 316.3 723.9 303.8 724.3 299.9C724.7 296.0 725.3 295.4 725.9 294.3C726.4 293.2 727.1 293.6 727.7 293.2C728.2 292.8 728.9 292.5 729.4 292.1C730.0 291.7 730.3 285.9 730.8 291.0C731.2 296.0 731.7 320.8 732.1 322.3C732.5 323.8 732.9 302.2 733.2 299.9C733.6 297.7 734.0 311.5 734.4 308.9C734.7 306.2 734.9 285.0 735.3 284.3C735.6 283.5 736.0 296.9 736.4 304.4C736.7 311.8 737.1 329.0 737.5 329.0C737.9 329.0 738.2 311.1 738.6 304.4C739.0 297.7 739.3 291.0 739.7 288.7C740.1 286.5 740.6 290.2 741.1 291.0C741.5 291.7 742.0 293.0 742.4 293.2C742.8 293.4 743.2 291.9 743.7 292.1C744.3 292.3 745.0 290.8 745.5 294.3C746.0 297.9 746.3 307.9 746.6 313.3C747.0 318.7 747.4 327.1 747.8 326.7C748.1 326.4 748.5 316.7 748.9 311.1C749.3 305.5 749.6 297.7 750.0 293.2C750.4 288.7 750.9 286.5 751.3 284.3C751.8 282.0 752.3 280.7 752.7 279.8C753.1 278.9 753.4 277.2 753.8 278.7C754.2 280.2 754.5 285.6 754.9 288.7C755.3 291.9 755.8 296.6 756.3 297.7C756.7 298.8 757.2 294.3 757.6 295.4C758.0 296.6 758.6 300.3 758.9 304.4C759.3 308.5 759.5 320.8 759.8 320.0C760.2 319.3 760.5 304.0 760.9 299.9C761.4 295.8 761.8 296.4 762.3 295.4C762.8 294.5 763.3 294.7 763.9 294.3C764.4 294.0 765.0 293.6 765.6 293.2C766.2 292.8 766.9 292.7 767.4 292.1C768.0 291.5 768.3 290.0 768.8 289.9C769.2 289.7 769.7 290.4 770.1 291.0C770.6 291.5 771.0 292.1 771.5 293.2C771.9 294.3 772.4 292.5 772.8 297.7C773.2 302.9 773.5 323.4 773.9 324.5C774.3 325.6 774.7 315.2 775.0 304.4C775.4 293.6 775.6 258.9 775.9 259.7C776.2 260.4 776.5 304.8 776.8 308.9C777.1 313.0 777.4 283.5 777.7 284.3C778.0 285.0 778.3 311.8 778.6 313.3C778.9 314.8 779.1 296.4 779.5 293.2C779.9 290.0 780.7 294.5 781.3 294.3C781.9 294.1 782.5 292.7 783.1 292.1C783.7 291.5 784.3 290.4 784.9 291.0C785.4 291.5 785.8 291.7 786.2 295.4C786.6 299.2 787.1 312.6 787.5 313.3C788.0 314.1 788.5 303.6 788.9 299.9C789.3 296.2 789.5 292.7 790.0 291.0C790.5 289.3 791.2 289.7 791.8 289.9C792.4 290.0 793.1 289.7 793.6 292.1C794.1 294.5 794.5 300.8 794.9 304.4C795.4 307.9 795.8 313.3 796.3 313.3C796.7 313.3 797.2 304.8 797.6 304.4C798.0 304.0 798.5 313.3 798.9 311.1C799.4 308.9 799.8 292.1 800.3 291.0C800.7 289.9 801.2 302.9 801.6 304.4C802.1 305.9 802.6 296.9 803.0 299.9C803.4 302.9 803.7 321.5 804.1 322.3C804.5 323.0 804.9 309.2 805.2 304.4C805.5 299.5 805.7 291.7 806.1 293.2C806.5 294.7 807.0 309.2 807.4 313.3C807.9 317.4 808.3 319.3 808.8 317.8C809.2 316.3 809.7 308.5 810.1 304.4C810.6 300.3 811.0 296.9 811.5 293.2C811.9 289.5 812.3 286.7 812.8 282.0C813.2 277.4 813.7 265.7 814.1 265.3C814.6 264.9 815.0 275.1 815.5 279.8C815.9 284.5 816.3 290.6 816.8 293.2C817.3 295.8 818.1 295.4 818.6 295.4C819.1 295.4 819.5 293.8 819.9 293.2C820.4 292.7 820.8 291.9 821.3 292.1C821.8 292.3 822.5 293.4 823.1 294.3C823.7 295.3 824.3 296.0 824.9 297.7C825.4 299.4 825.8 301.8 826.2 304.4C826.6 307.0 827.2 313.7 827.5 313.3C827.9 313.0 828.1 299.9 828.4 302.2C828.8 304.4 829.2 328.2 829.6 326.7C829.9 325.2 830.3 304.4 830.7 293.2C831.1 282.0 831.6 261.9 832.0 259.7C832.5 257.5 832.9 274.4 833.4 279.8C833.8 285.2 834.2 289.9 834.7 292.1C835.2 294.3 836.0 293.2 836.5 293.2C837.0 293.2 837.3 291.9 837.8 292.1C838.3 292.3 839.1 292.3 839.6 294.3C840.1 296.4 840.5 303.5 840.9 304.4C841.4 305.3 841.8 301.0 842.3 299.9C842.7 298.8 843.2 296.9 843.6 297.7C844.1 298.4 844.5 302.2 845.0 304.4C845.4 306.6 845.9 313.0 846.3 311.1C846.8 309.2 847.3 299.9 847.7 293.2C848.0 286.5 848.2 270.9 848.5 270.9C848.8 270.9 849.1 284.6 849.4 293.2C849.7 301.8 850.0 320.4 850.3 322.3C850.7 324.1 851.2 306.6 851.7 304.4C852.1 302.2 852.6 309.6 853.0 308.9C853.5 308.1 853.9 303.3 854.4 299.9C854.8 296.6 855.1 286.5 855.5 288.7C855.8 291.0 856.2 310.7 856.6 313.3C857.0 315.9 857.5 309.6 857.9 304.4C858.4 299.2 858.8 289.1 859.3 282.0C859.7 275.0 860.2 266.2 860.6 261.9C861.1 257.6 861.5 253.0 862.0 256.3C862.4 259.7 862.9 272.2 863.3 282.0C863.7 291.9 864.0 311.8 864.4 315.6C864.8 319.3 865.2 308.5 865.5 304.4C865.9 300.3 866.1 291.7 866.4 291.0C866.8 290.2 867.2 295.8 867.5 299.9C867.9 304.0 868.2 320.8 868.7 315.6C869.1 310.3 869.6 274.2 870.0 268.6C870.4 263.0 870.9 277.6 871.3 282.0C871.8 286.5 872.2 293.8 872.7 295.4C873.1 297.1 873.6 292.8 874.0 292.1C874.5 291.4 874.9 291.4 875.4 291.0C875.8 290.6 876.3 289.5 876.7 289.9C877.2 290.2 877.6 292.3 878.0 293.2C878.5 294.1 879.0 292.1 879.4 295.4C879.8 298.8 880.1 312.6 880.5 313.3C880.9 314.1 881.2 302.9 881.6 299.9C882.0 296.9 882.5 296.6 883.0 295.4C883.4 294.3 883.9 291.7 884.3 293.2C884.7 294.7 885.3 299.0 885.6 304.4C886.0 309.8 886.2 325.6 886.5 325.6C886.9 325.6 887.3 309.8 887.7 304.4C888.0 299.0 888.4 294.9 888.8 293.2C889.2 291.5 889.7 294.5 890.1 294.3C890.6 294.1 891.0 292.7 891.5 292.1C891.9 291.5 892.3 291.0 892.8 291.0C893.3 291.0 894.0 292.1 894.6 292.1C895.2 292.1 895.8 290.8 896.4 291.0C896.9 291.2 897.3 293.0 897.7 293.2C898.2 293.4 898.6 291.7 899.1 292.1C899.5 292.5 899.9 295.1 900.4 295.4C900.8 295.8 901.3 294.0 901.7 294.3C902.2 294.7 902.6 296.0 903.1 297.7C903.5 299.4 904.0 301.8 904.4 304.4C904.9 307.0 905.3 313.3 905.8 313.3C906.2 313.3 906.6 307.0 907.1 304.4C907.5 301.8 908.2 298.8 908.4 297.7" fill="none" stroke="#e6b750" stroke-width="1.7" stroke-linejoin="round" stroke-linecap="round"/><circle cx="692.3" cy="392.5" r="3.2" fill="#dcae52" fill-opacity="0.12" stroke="#dcae52" stroke-width="1.6"/><path d="M106.3 459.9H480.0" stroke="#16171a" stroke-width="1"/><path d="M106.3 484.5H480.0" stroke="#16171a" stroke-width="1"/><path d="M106.3 509.2H480.0" stroke="#16171a" stroke-width="1"/><path d="M155 450V525" stroke="#16171a" stroke-width="1"/><path d="M217.5 450V525" stroke="#16171a" stroke-width="1"/><path d="M280 450V525" stroke="#16171a" stroke-width="1"/><path d="M342.3 450V525" stroke="#16171a" stroke-width="1"/><path d="M405 450V525" stroke="#16171a" stroke-width="1"/><path d="M467.5 450V525" stroke="#16171a" stroke-width="1"/><path d="M191.0 560L192.4 516.3L193.4 516.3L194.8 560ZM291.5 560L292.9 516.3L293.9 516.3L295.3 560ZM122.5 560L123.9 497.3L124.9 497.3L126.3 560ZM130.8 560L132.2 505.6L133.2 505.6L134.6 560ZM135.5 560L136.9 514.9L137.9 514.9L139.3 560ZM148.9 560L150.3 499.6L151.3 499.6L152.7 560ZM155.8 560L157.2 499.6L158.2 499.6L159.6 560ZM157.7 560L159.1 504.2L160.1 504.2L161.5 560ZM182.2 560L183.6 518.1L184.6 518.1L186.0 560ZM189.2 560L190.6 459.3L191.6 459.3L193.0 560ZM219.7 560L221.1 492.6L222.1 492.6L223.5 560ZM239.2 560L240.6 479.7L241.6 479.7L243.0 560ZM243.4 560L244.8 459.3L245.8 459.3L247.2 560ZM250.8 560L252.2 508.8L253.2 508.8L254.6 560ZM259.1 560L260.5 504.7L261.5 504.7L262.9 560ZM262.8 560L264.2 508.8L265.2 508.8L266.6 560ZM271.6 560L273.0 497.3L274.0 497.3L275.4 560ZM277.2 560L278.6 512.6L279.6 512.6L281.0 560ZM290.2 560L291.6 509.3L292.6 509.3L294.0 560ZM318.9 560L320.3 496.3L321.3 496.3L322.7 560ZM335.5 560L336.9 479.7L337.9 479.7L339.3 560ZM337.9 560L339.3 484.8L340.3 484.8L341.7 560ZM359.6 560L361.0 515.8L362.0 515.8L363.4 560ZM370.3 560L371.7 502.8L372.7 502.8L374.1 560ZM372.6 560L374.0 505.6L375.0 505.6L376.4 560ZM415.7 560L417.1 496.3L418.1 496.3L419.5 560ZM423.1 560L424.5 512.6L425.5 512.6L426.9 560ZM430.0 560L431.4 508.8L432.4 508.8L433.8 560ZM435.6 560L437.0 500.0L438.0 500.0L439.4 560ZM446.2 560L447.6 512.6L448.6 512.6L450.0 560ZM475.0 560L476.4 505.6L477.4 505.6L478.8 560Z" fill="#8f8d78" stroke="#8f8d78" stroke-width="0.5" stroke-linejoin="round"/></svg>
<svg class="ic" style="left:877.0px;top:421.2px" width="9.5" height="9.5" viewBox="0 0 24 24" fill="none" stroke="#e6e7e9" stroke-width="2.2" stroke-linecap="round" stroke-linejoin="round"><circle cx="11" cy="11" r="7"/><path d="m21 21-4.3-4.3"/></svg>
<svg class="ic" style="left:902px;top:422px" width="2" height="8" viewBox="0 0 2 8"><circle cx="1" cy="1" r=".8" fill="#7b7d84"/><circle cx="1" cy="4" r=".8" fill="#7b7d84"/><circle cx="1" cy="7" r=".8" fill="#7b7d84"/></svg>
<div class="r" style="left:498px;top:438px;width:420px;height:26px;background:#1a1b20;"></div>
<div class="r" style="left:498px;top:464px;width:420px;height:55px;background:#111216;"></div>
<div class="r" style="left:498px;top:490px;width:420px;height:1px;background:#1e1f24;"></div>
<div class="r" style="left:498px;top:516px;width:420px;height:1px;background:#1e1f24;"></div>
<div class="r" style="left:917px;top:438px;width:1.5px;height:76.5px;background:#c9cacc;"></div>
<div class="t" style="left:504.4px;top:445.4px;font-size:9.3px;line-height:13px;color:#e8e9eb;font-weight:bold;">operation</div>
<div class="t" style="left:696.0px;top:445.4px;font-size:9.3px;line-height:13px;color:#e8e9eb;font-weight:bold;">p99</div>
<div class="t" style="left:796.5px;top:445.4px;font-size:9.3px;line-height:13px;color:#e8e9eb;font-weight:bold;">p90</div>
<div class="t" style="left:897.0px;top:445.4px;font-size:9.3px;line-height:13px;color:#e8e9eb;font-weight:bold;">p50</div>
<div class="r" style="left:690.2px;top:445px;width:1.0px;height:13px;background:#2a2b31;"></div>
<div class="r" style="left:790.8px;top:445px;width:1.0px;height:13px;background:#2a2b31;"></div>
<div class="r" style="left:891.3px;top:445px;width:1.0px;height:13px;background:#2a2b31;"></div>
<svg class="ic" style="left:679.1px;top:447.5px" width="5" height="8" viewBox="0 0 5 8"><path d="M0 3L2.5 0L5 3z" fill="#585a61"/><path d="M0 5L2.5 8L5 5z" fill="#585a61"/></svg>
<svg class="ic" style="left:779.5px;top:447.5px" width="5" height="8" viewBox="0 0 5 8"><path d="M0 3L2.5 0L5 3z" fill="#585a61"/><path d="M0 5L2.5 8L5 5z" fill="#585a61"/></svg>
<svg class="ic" style="left:880.2px;top:447.5px" width="5" height="8" viewBox="0 0 5 8"><path d="M0 3L2.5 0L5 3z" fill="#585a61"/><path d="M0 5L2.5 8L5 5z" fill="#585a61"/></svg>
<div class="t" style="left:504.4px;top:470.7px;font-size:9.7px;line-height:14px;color:#e2e3e6;font-weight:normal;">GET /api/github/search/repositories</div>
<div class="t" style="left:696.0px;top:470.7px;font-size:9.7px;line-height:14px;color:#e2e3e6;font-weight:normal;letter-spacing:-0.3px;">1.45 µs</div>
<div class="t" style="left:796.5px;top:470.7px;font-size:9.7px;line-height:14px;color:#e2e3e6;font-weight:normal;letter-spacing:-0.3px;">1.4 µs</div>
<div class="t" style="left:897.5px;top:470.7px;font-size:9.7px;line-height:14px;color:#e2e3e6;font-weight:normal;letter-spacing:-0.45px;">1.22</div>
<div class="t" style="left:504.4px;top:497.1px;font-size:9.7px;line-height:14px;color:#e2e3e6;font-weight:normal;">GET /api/nasa/mars/photos</div>
<div class="t" style="left:696.0px;top:497.1px;font-size:9.7px;line-height:14px;color:#e2e3e6;font-weight:normal;letter-spacing:-0.3px;">1.31 µs</div>
<div class="t" style="left:796.5px;top:497.1px;font-size:9.7px;line-height:14px;color:#e2e3e6;font-weight:normal;letter-spacing:-0.3px;">1.27 µs</div>
<div class="t" style="left:897.5px;top:497.1px;font-size:9.7px;line-height:14px;color:#e2e3e6;font-weight:normal;letter-spacing:-0.45px;">1.05</div>
</div>
</body></html>
